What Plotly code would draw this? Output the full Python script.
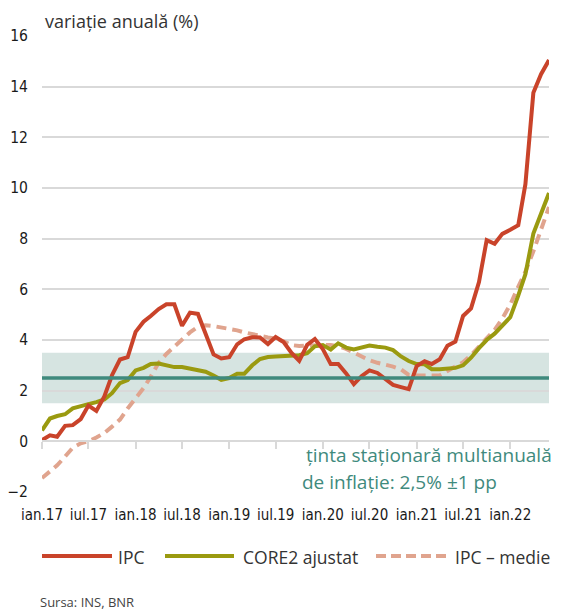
import plotly.graph_objects as go
import pandas as pd

months = pd.date_range("2017-01-01", "2022-06-01", freq="MS")

ipc = [0.05, 0.24, 0.18, 0.61, 0.64, 0.88, 1.41, 1.20, 1.77, 2.61, 3.23, 3.32,
       4.32, 4.72, 4.95, 5.22, 5.41, 5.41, 4.56, 5.08, 5.03, 4.26, 3.43, 3.27,
       3.32, 3.83, 4.03, 4.11, 4.10, 3.84, 4.12, 3.92, 3.49, 3.18, 3.81, 4.04,
       3.64, 3.05, 3.05, 2.68, 2.26, 2.58, 2.80, 2.70, 2.45, 2.23, 2.14, 2.06,
       2.97, 3.16, 3.05, 3.24, 3.77, 3.94, 4.95, 5.25, 6.29, 7.94, 7.80, 8.19,
       8.35, 8.53, 10.15, 13.76, 14.49, 15.05]

core2 = [0.43, 0.90, 1.00, 1.07, 1.30, 1.40, 1.47, 1.55, 1.65, 1.90, 2.30, 2.42,
         2.80, 2.90, 3.05, 3.07, 3.00, 2.93, 2.93, 2.88, 2.80, 2.75, 2.60, 2.43,
         2.50, 2.67, 2.67, 3.00, 3.25, 3.33, 3.35, 3.38, 3.40, 3.40, 3.48, 3.75,
         3.80, 3.62, 3.87, 3.70, 3.63, 3.70, 3.78, 3.73, 3.70, 3.60, 3.35, 3.17,
         3.05, 3.04, 2.85, 2.85, 2.88, 2.90, 3.00, 3.30, 3.68, 4.00, 4.25, 4.55,
         4.90, 5.75, 6.60, 8.20, 9.00, 9.80]

ipc_medie = [-1.45, -1.20, -0.95, -0.60, -0.25, -0.08, 0.00, 0.15, 0.33, 0.58, 0.86, 1.30,
             1.72, 2.10, 2.55, 3.10, 3.45, 3.75, 4.05, 4.30, 4.52, 4.58, 4.55, 4.50,
             4.45, 4.38, 4.30, 4.22, 4.16, 4.10, 4.05, 3.95, 3.80, 3.76, 3.78, 3.80,
             3.80, 3.80, 3.75, 3.65, 3.50, 3.35, 3.20, 3.10, 3.03, 2.95, 2.84, 2.62,
             2.60, 2.60, 2.60, 2.60, 2.78, 2.95, 3.12, 3.40, 3.75, 4.10, 4.40, 4.85,
             5.40, 6.10, 6.70, 7.50, 8.40, 9.25]

target = 2.5
band = [1.5, 3.5]

tick_dates = pd.date_range("2017-01-01", "2022-01-01", freq="6MS")
tick_text = ["ian.17", "iul.17", "ian.18", "iul.18", "ian.19", "iul.19",
             "ian.20", "iul.20", "ian.21", "iul.21", "ian.22"]

RED = "#c9432a"
GREEN = "#9a9a10"
SALMON = "#e0a48e"
TEAL = "#3f8a7d"
BAND = "#d6e4e1"
GRID = "#d9d9d9"
TXT = "#1a1a1a"
COND = "DejaVu Sans Condensed, sans-serif"
SANS = "Open Sans, Noto Sans, sans-serif"

# page body adds an 8px offset, so the figure is drawn 8px smaller
OFF = 8
W, H = 561 - OFF, 610 - OFF
L, T = 42 - OFF, 36 - OFF
R = W - (549 - OFF)
B = H - (492 - OFF)


def px(x):
    return (x - OFF - L) / (W - L - R)


def py(y):
    return (H - B - (y - OFF)) / (H - T - B)


fig = go.Figure()

fig.add_trace(go.Scatter(
    x=[months[0], months[-1]], y=[target, target], xaxis="x2",
    mode="lines", line=dict(color=TEAL, width=3.5),
    showlegend=False, hoverinfo="skip"))

fig.add_trace(go.Scatter(
    x=months, y=ipc_medie, mode="lines", name="IPC – medie",
    line=dict(color=SALMON, width=4, dash="10px,6px")))
fig.add_trace(go.Scatter(
    x=months, y=core2, mode="lines", name="CORE2 ajustat",
    line=dict(color=GREEN, width=4)))
fig.add_trace(go.Scatter(
    x=months, y=ipc, mode="lines", name="IPC",
    line=dict(color=RED, width=4)))

fig.add_shape(type="rect", xref="paper", yref="y", x0=0, x1=1,
              y0=band[0], y1=band[1], fillcolor=BAND, line_width=0,
              layer="below")

# legend drawn by hand
legend_items = [("IPC", RED, "solid", 42, 112, 116, "left"),
                ("CORE2 ajustat", GREEN, "solid", 165, 234, 241, "left"),
                ("IPC – medie", SALMON, "10px,5px", 376, 446, 552, "right")]
for name, col, dash, x0, x1, xt, anchor in legend_items:
    fig.add_shape(type="line", xref="paper", yref="paper",
                  x0=px(x0), x1=px(x1), y0=py(556), y1=py(556),
                  line=dict(color=col, width=4, dash=dash))
    fig.add_annotation(text=name, xref="paper", yref="paper",
                       x=px(xt), y=py(557), xanchor=anchor, yanchor="middle",
                       showarrow=False, font=dict(family=SANS, size=17.5, color="#333333"))

fig.add_annotation(text="variație anuală (%)", xref="paper", yref="paper",
                   x=px(43), y=py(21), xanchor="left", yanchor="middle",
                   showarrow=False, font=dict(family=SANS, size=18, color="#333333"))
fig.add_annotation(text="ținta staționară multianuală", xref="paper", yref="paper",
                   x=px(554), y=py(455), xanchor="right", yanchor="middle",
                   showarrow=False, font=dict(family=SANS, size=19, color=TEAL))
fig.add_annotation(text="de inflație: 2,5% ±1 pp", xref="paper", yref="paper",
                   x=px(300), y=py(482), xanchor="left", yanchor="middle",
                   showarrow=False, font=dict(family=SANS, size=19, color=TEAL))
fig.add_annotation(text="Sursa: INS, BNR", xref="paper", yref="paper",
                   x=px(38), y=py(602), xanchor="left", yanchor="middle",
                   showarrow=False, font=dict(family=SANS, size=13, color="#444444"))

fig.update_layout(
    width=W, height=H,
    margin=dict(l=L, r=R, t=T, b=B, autoexpand=False),
    plot_bgcolor="white", paper_bgcolor="white",
    showlegend=False,
    xaxis=dict(range=[months[0], months[-1]], tickvals=tick_dates, ticktext=tick_text,
               showgrid=False, zeroline=False, showline=False, ticks="",
               ticklabelstandoff=12, automargin=False,
               tickfont=dict(family=COND, size=15, color=TXT)),
    xaxis2=dict(overlaying="x", matches="x", anchor="free", position=2 / 18,
                tickvals=tick_dates, showticklabels=False, showgrid=False,
                showline=True, linecolor=GRID, linewidth=2, ticks="outside",
                ticklen=7, tickwidth=2, tickcolor=GRID, zeroline=False,
                automargin=False),
    yaxis=dict(range=[-2, 16], dtick=2, showgrid=True, gridcolor=GRID, gridwidth=2,
               zeroline=False, showline=False, ticks="", ticklabelstandoff=13,
               automargin=False,
               tickfont=dict(family=COND, size=15.5, color=TXT)),
)

fig.write_html("out.html")
